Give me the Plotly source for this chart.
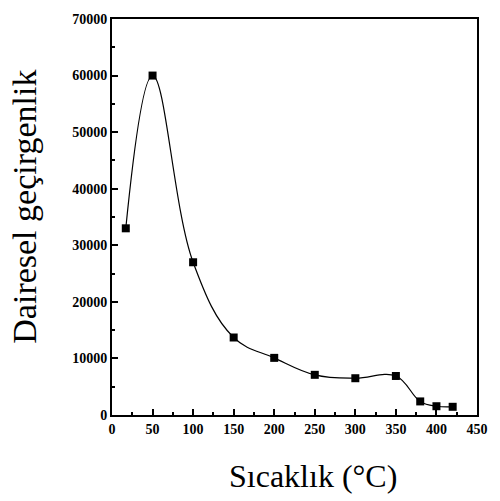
import plotly.graph_objects as go

# Circular permeability vs. temperature
temperature = [17, 50, 100, 150, 200, 250, 300, 350, 380, 400, 420]
permeability = [33000, 60000, 27000, 13700, 10100, 7100, 6500, 6900, 2400, 1550, 1450]

x_ticks = [0, 50, 100, 150, 200, 250, 300, 350, 400, 450]
y_ticks = [0, 10000, 20000, 30000, 40000, 50000, 60000, 70000]

serif = "Times New Roman, Liberation Serif, DejaVu Serif, serif"

fig = go.Figure()

# smooth curve through the measurements
fig.add_trace(go.Scatter(
    x=temperature, y=permeability, mode="lines",
    line=dict(color="black", width=1.2, shape="spline", smoothing=1.1),
    hoverinfo="skip", showlegend=False,
))
# measured points
fig.add_trace(go.Scatter(
    x=temperature, y=permeability, mode="markers",
    marker=dict(symbol="square", size=8, color="black"),
    showlegend=False,
))

axis_common = dict(
    showgrid=False, zeroline=False, showline=True, linecolor="black", linewidth=2,
    mirror=True, ticks="inside", ticklen=6, tickwidth=1.5, tickcolor="black",
    tickfont=dict(family=serif, size=14, color="black", weight="bold"),
)

fig.update_xaxes(
    range=[0, 450], tickvals=x_ticks, ticktext=[str(v) for v in x_ticks],
    minor=dict(ticks="inside", ticklen=3, tickcolor="black", dtick=25, tick0=0),
    **axis_common,
)
fig.update_yaxes(
    range=[0, 70000], tickvals=y_ticks, ticktext=[str(v) for v in y_ticks],
    minor=dict(ticks="inside", ticklen=3, tickcolor="black", dtick=5000, tick0=0),
    **axis_common,
)

fig.add_annotation(
    text="Dairesel geçirgenlik", xref="paper", yref="paper",
    x=-0.24, y=0.527, xanchor="center", yanchor="middle", textangle=-90,
    showarrow=False, font=dict(family=serif, size=34, color="black"),
)
fig.add_annotation(
    text="Sıcaklık (°C)", xref="paper", yref="paper",
    x=0.552, y=-0.153, xanchor="center", yanchor="middle",
    showarrow=False, font=dict(family=serif, size=32, color="black"),
)

fig.update_layout(
    width=500, height=501,
    margin=dict(l=112, r=13, t=15, b=86),
    paper_bgcolor="white", plot_bgcolor="white",
    font=dict(family=serif),
)

fig.write_html("out.html")
